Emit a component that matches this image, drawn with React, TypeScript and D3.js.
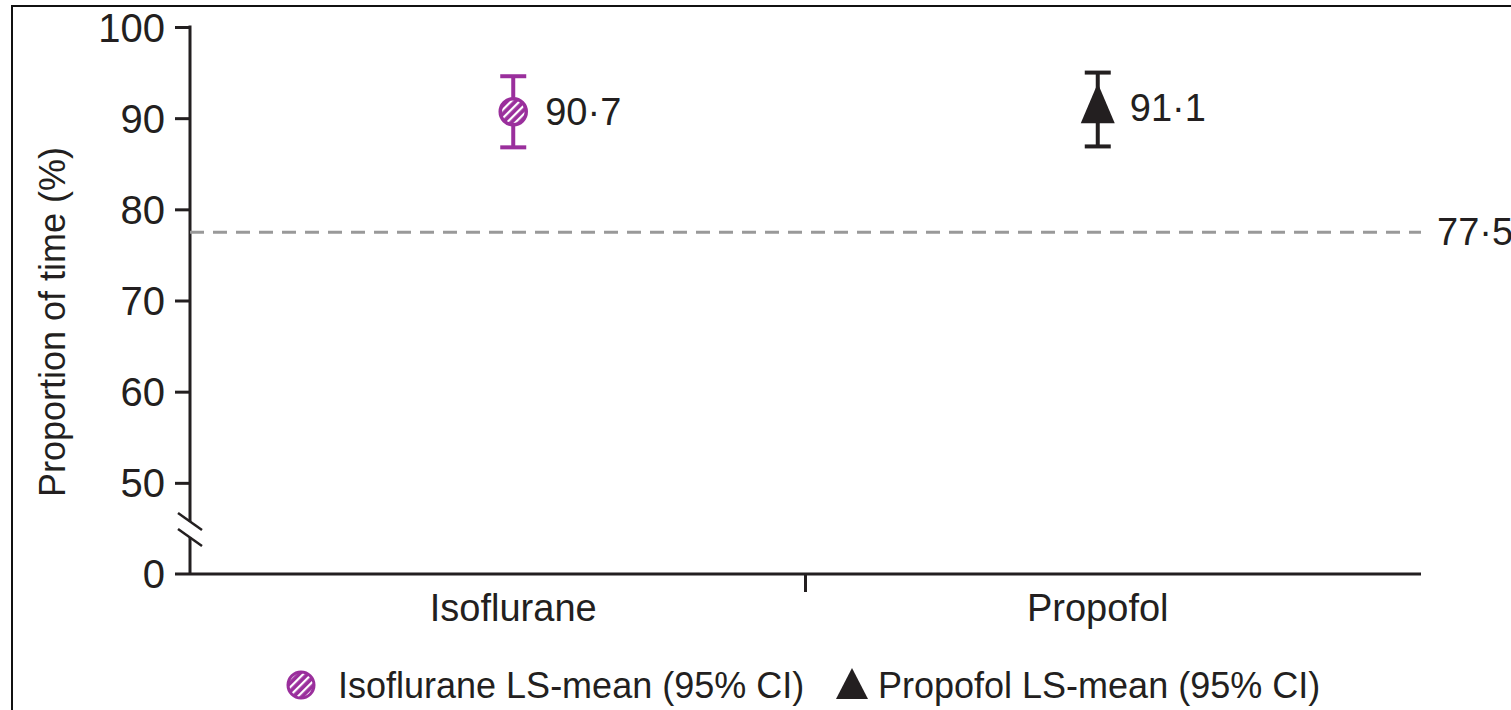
import React, { useRef, useEffect } from 'react';
import * as d3 from 'd3';

// data
const groups = ['Isoflurane', 'Propofol'];
const means = [90.7, 91.1];
const lowerCI = [86.8, 86.9];
const upperCI = [94.6, 95.0];
const referenceValue = 77.5;
const yTicks = [50, 60, 70, 80, 90, 100];
const legendLabels = ['Isoflurane LS-mean (95% CI)', 'Propofol LS-mean (95% CI)'];

const PURPLE = '#9a2f9c';
const INK = '#231f20';
const FONT = '"Liberation Sans", Arial, sans-serif';

function App() {
  const svgRef = useRef<SVGSVGElement>(null);

  useEffect(() => {
    const svg = d3.select(svgRef.current);
    svg.selectAll('*').remove();

    const W = 1511;
    const H = 710;
    const left = 190;
    const right = 1421;
    const top = 27;
    const bottom = 574;

    // hatch pattern for the isoflurane marker
    const defs = svg.append('defs');
    const pat = defs.append('pattern')
      .attr('id', 'hatch')
      .attr('patternUnits', 'userSpaceOnUse')
      .attr('width', 6)
      .attr('height', 6)
      .attr('patternTransform', 'rotate(-45)');
    pat.append('rect').attr('width', 6).attr('height', 6).attr('fill', PURPLE);
    pat.append('rect').attr('x', 0).attr('y', 0).attr('width', 6).attr('height', 2.2).attr('fill', '#fff');

    // outer frame (cut off on right and bottom)
    svg.append('rect')
      .attr('x', 12).attr('y', 6)
      .attr('width', W).attr('height', H)
      .attr('fill', 'none')
      .attr('stroke', '#111')
      .attr('stroke-width', 2);

    // 0 sits where 40 would be, after the axis break
    const y = d3.scaleLinear().domain([40, 100]).range([bottom, top]);
    const x = d3.scalePoint<string>().domain(groups).range([left, right]).padding(0.553);

    const g = svg.append('g').attr('font-family', FONT);

    // y axis
    const yAxis = g.append('g')
      .attr('transform', `translate(${left},0)`)
      .call(d3.axisLeft(y).tickValues(yTicks).tickSize(15).tickPadding(10).tickFormat(d3.format('d')));
    yAxis.select('.domain').remove();
    yAxis.selectAll('.tick line').attr('stroke', INK).attr('stroke-width', 3);
    yAxis.selectAll('.tick text').attr('fill', INK).attr('font-size', 40).attr('dy', '0.35em').attr('font-family', FONT);

    // broken axis line
    const b1 = 521.5;
    const b2 = 537.5;
    g.append('line').attr('x1', left).attr('x2', left).attr('y1', top - 1.5).attr('y2', b1)
      .attr('stroke', INK).attr('stroke-width', 3);
    g.append('line').attr('x1', left).attr('x2', left).attr('y1', b2).attr('y2', bottom)
      .attr('stroke', INK).attr('stroke-width', 3);
    [b1, b2].forEach(by => {
      g.append('line')
        .attr('x1', left - 12).attr('y1', by - 8.5)
        .attr('x2', left + 12).attr('y2', by + 8.5)
        .attr('stroke', INK).attr('stroke-width', 2.5);
    });

    // zero label
    g.append('text')
      .attr('x', left - 25).attr('y', bottom)
      .attr('dy', '0.35em')
      .attr('text-anchor', 'end')
      .attr('font-size', 40)
      .attr('fill', INK)
      .text('0');

    // x axis
    g.append('line').attr('x1', left - 15).attr('x2', right).attr('y1', bottom).attr('y2', bottom)
      .attr('stroke', INK).attr('stroke-width', 3);
    g.append('line').attr('x1', (left + right) / 2).attr('x2', (left + right) / 2)
      .attr('y1', bottom).attr('y2', bottom + 18)
      .attr('stroke', INK).attr('stroke-width', 3);
    groups.forEach(gr => {
      g.append('text')
        .attr('x', x(gr)!).attr('y', bottom + 47)
        .attr('text-anchor', 'middle')
        .attr('font-size', 38)
        .attr('fill', INK)
        .text(gr);
    });

    // y axis title
    g.append('text')
      .attr('transform', `translate(65,${322}) rotate(-90)`)
      .attr('text-anchor', 'middle')
      .attr('font-size', 36)
      .attr('fill', INK)
      .text('Proportion of time (%)');

    // reference line
    g.append('line')
      .attr('x1', left).attr('x2', right)
      .attr('y1', y(referenceValue)).attr('y2', y(referenceValue))
      .attr('stroke', '#999').attr('stroke-width', 3)
      .attr('stroke-dasharray', '14,9');
    g.append('text')
      .attr('x', right + 16).attr('y', y(referenceValue))
      .attr('dy', '0.35em')
      .attr('font-size', 38)
      .attr('fill', INK)
      .text(d3.format('.1f')(referenceValue).replace('.', '·'));

    // error bars and markers
    const colors = [PURPLE, INK];
    groups.forEach((gr, i) => {
      const cx = x(gr)!;
      const c = colors[i];
      const eb = g.append('g').attr('stroke', c).attr('stroke-width', 4);
      eb.append('line').attr('x1', cx).attr('x2', cx).attr('y1', y(upperCI[i])).attr('y2', y(lowerCI[i]));
      eb.append('line').attr('x1', cx - 13).attr('x2', cx + 13).attr('y1', y(upperCI[i])).attr('y2', y(upperCI[i]));
      eb.append('line').attr('x1', cx - 13).attr('x2', cx + 13).attr('y1', y(lowerCI[i])).attr('y2', y(lowerCI[i]));

      const cy = y(means[i]);
      if (i === 0) {
        g.append('circle').attr('cx', cx).attr('cy', cy).attr('r', 14)
          .attr('fill', '#fff');
        g.append('circle').attr('cx', cx).attr('cy', cy).attr('r', 13)
          .attr('fill', 'url(#hatch)').attr('stroke', PURPLE).attr('stroke-width', 3.5);
      } else {
        g.append('path')
          .attr('transform', `translate(${cx},${cy - 3})`)
          .attr('d', 'M0,-22L17,18L-17,18Z')
          .attr('fill', INK);
      }
      g.append('text')
        .attr('x', cx + 32).attr('y', y(means[i]))
        .attr('dy', '0.35em')
        .attr('font-size', 38)
        .attr('fill', INK)
        .text(d3.format('.1f')(means[i]).replace('.', '·'));
    });

    // legend
    const ly = 685;
    const leg = g.append('g').attr('font-size', 36).attr('fill', INK);
    leg.append('circle').attr('cx', 301).attr('cy', ly).attr('r', 13)
      .attr('fill', 'url(#hatch)').attr('stroke', PURPLE).attr('stroke-width', 3);
    leg.append('text').attr('x', 338).attr('y', ly).attr('dy', '0.35em').text(legendLabels[0]);
    leg.append('path').attr('transform', `translate(852,${ly})`).attr('d', 'M0,-17L16,14L-16,14Z').attr('fill', INK);
    leg.append('text').attr('x', 878).attr('y', ly).attr('dy', '0.35em').text(legendLabels[1]);
  }, []);

  return (
    <svg
      ref={svgRef}
      width={1511}
      height={710}
      style={{ position: 'absolute', left: 0, top: 0, background: '#fff' }}
    />
  );
}

export default App;
